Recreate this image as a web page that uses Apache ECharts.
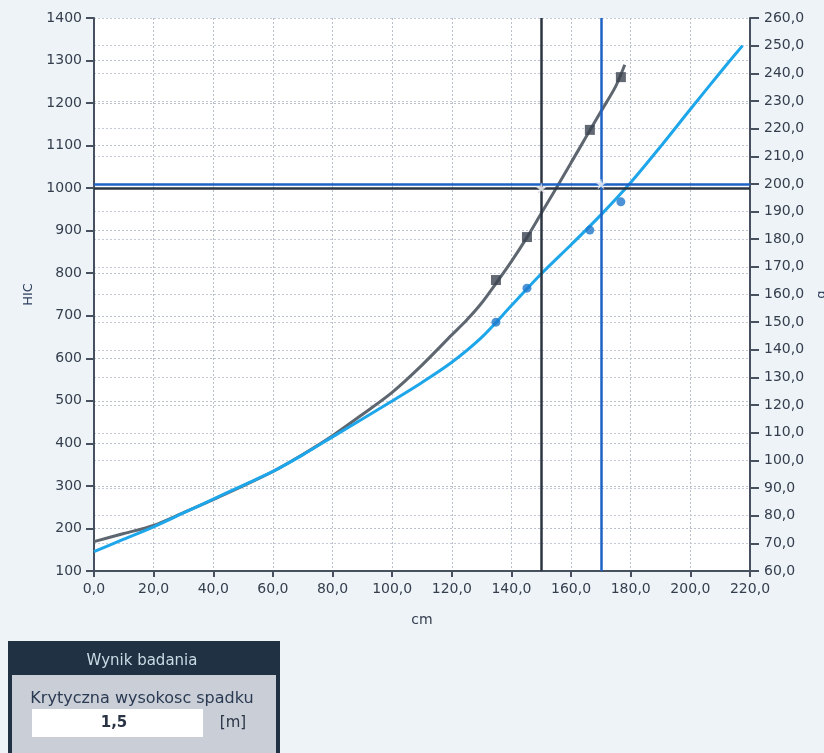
<!DOCTYPE html>
<html><head><meta charset="utf-8">
<script src="https://cdn.jsdelivr.net/npm/echarts@6/dist/echarts.min.js"></script>
<style>html,body{margin:0;padding:0;background:#eef3f8;}#c{width:824px;height:753px;}</style>
</head><body><div id="c"></div>
<script>
// curve data (cm -> HIC, left axis)
const hicX = [0,10,20,30,40,50,60,70,80,90,100,110,120,125,130,135,140,145,150,155,160,165,170,175,178];
const hicY = [169,188,207,237,268,300,334,374,418,468,520,584,655,690,730,778,828,882,941,1000,1060,1120,1180,1240,1290];
// curve data (cm -> g, right axis)
const gX = [0,10,20,30,40,50,60,70,80,90,100,110,120,130,140,150,160,170,180,190,200,210,217.5];
const gY = [67,71.5,76,81,86,91,96,102,108.5,115,121.5,128.2,135.5,144.5,156,167.5,178,188.8,200.5,213.5,227,240.3,250];
// measured points
const hicPtsX = [134.8,145.2,166.3,176.7];
const hicPtsY = [784,885,1137,1261];
const gPtsX = [134.8,145.2,166.3,176.7];
const gPtsY = [150,162.3,183.3,193.5];
// critical lines
const critHIC = 1000, critG = 200, critXHIC = 150, critXG = 170;

const fmt1 = v => v.toFixed(1).replace('.', ',');
const fmt0 = v => String(v);
const pair = (xs, ys) => xs.map((x, i) => [x, ys[i]]);
const star = 'path://M50,0 L61,35 L98,35 L68,57 L79,91 L50,70 L21,91 L32,57 L2,35 L39,35 Z';
const lblColor = '#343e4c';
const lblFont = {color: lblColor, fontSize: 14, fontFamily: 'DejaVu Sans'};
const gridLine = {show: true, lineStyle: {color: '#b9c1cd', type: [2, 2], width: 1}};

const chart = echarts.init(document.getElementById('c'));
chart.setOption({
  backgroundColor: '#eef3f8',
  animation: false,
  grid: {left: 94, right: 74, top: 18, bottom: 182, show: true, backgroundColor: '#ffffff', borderWidth: 0,
         outerBoundsMode: 'none', containLabel: false},
  xAxis: {
    type: 'value', min: 0, max: 220, interval: 20,
    name: 'cm', nameLocation: 'middle', nameGap: 42,
    nameTextStyle: {color: lblColor, fontSize: 14, fontFamily: 'DejaVu Sans'},
    axisLine: {show: true, lineStyle: {color: '#46505e', width: 2}},
    axisTick: {show: true, length: 6, lineStyle: {color: '#46505e', width: 2}},
    axisLabel: Object.assign({formatter: fmt1, margin: 11}, lblFont),
    splitLine: gridLine
  },
  yAxis: [{
    type: 'value', min: 100, max: 1400, interval: 100, position: 'left',
    name: 'HIC', nameLocation: 'middle', nameGap: 58, nameRotate: 90,
    nameTextStyle: {color: '#2c3e5c', fontSize: 13, fontFamily: 'DejaVu Sans'},
    axisLine: {show: true, lineStyle: {color: '#46505e', width: 2}},
    axisTick: {show: true, length: 8, lineStyle: {color: '#46505e', width: 2}},
    axisLabel: Object.assign({formatter: fmt0, margin: 12}, lblFont),
    splitLine: gridLine
  }, {
    type: 'value', min: 60, max: 260, interval: 10, position: 'right',
    name: 'g', nameLocation: 'middle', nameGap: 64, nameRotate: 90,
    nameTextStyle: {color: '#2c3e5c', fontSize: 13, fontFamily: 'DejaVu Sans'},
    axisLine: {show: true, lineStyle: {color: '#46505e', width: 2}},
    axisTick: {show: true, length: 9, lineStyle: {color: '#46505e', width: 2}},
    axisLabel: Object.assign({formatter: fmt1, margin: 14}, lblFont),
    splitLine: {show: true, lineStyle: {color: '#c3cad5', type: [2, 2], width: 1}}
  }],
  series: [{
    type: 'line', yAxisIndex: 0, data: pair(hicX, hicY), smooth: 0.3, showSymbol: false,
    lineStyle: {color: '#5e6670', width: 3}, z: 3,
    markLine: {silent: true, symbol: 'none', label: {show: false},
      data: [{xAxis: critXHIC}, {yAxis: critHIC}],
      lineStyle: {color: '#2b3440', width: 2.5, type: 'solid'}}
  }, {
    type: 'line', yAxisIndex: 1, data: pair(gX, gY), smooth: 0.3, showSymbol: false,
    lineStyle: {color: '#1da6ea', width: 3}, z: 3,
    markLine: {silent: true, symbol: 'none', label: {show: false},
      data: [{xAxis: critXG}, {yAxis: critG}],
      lineStyle: {color: '#1d62c4', width: 2.5, type: 'solid'}}
  }, {
    type: 'scatter', yAxisIndex: 0, data: pair(hicPtsX, hicPtsY), symbol: 'rect', symbolSize: 10,
    itemStyle: {color: '#3b4450'}, z: 5
  }, {
    type: 'scatter', yAxisIndex: 1, data: pair(gPtsX, gPtsY), symbol: 'circle', symbolSize: 9,
    itemStyle: {color: '#1e78cc'}, z: 5
  }, {
    type: 'scatter', yAxisIndex: 0, data: [[critXHIC, critHIC]], symbol: star, symbolSize: 10,
    itemStyle: {color: '#ffffff', borderColor: '#c0b8c8', borderWidth: 0.5}, z: 6
  }, {
    type: 'scatter', yAxisIndex: 1, data: [[critXG, critG]], symbol: star, symbolSize: 10,
    itemStyle: {color: '#ffffff', borderColor: '#b8c8e0', borderWidth: 0.5}, z: 6
  }],
  graphic: [
    {type: 'rect', shape: {x: 8, y: 641, width: 272, height: 120}, style: {fill: '#1f3142'}},
    {type: 'text', x: 142, y: 661, style: {text: 'Wynik badania', fill: '#c9dbe4', font: '15px "DejaVu Sans"', align: 'center', verticalAlign: 'middle'}},
    {type: 'rect', shape: {x: 12, y: 675, width: 264, height: 82}, style: {fill: '#c9ced7'}},
    {type: 'text', x: 142, y: 699, style: {text: 'Krytyczna wysokosc spadku', fill: '#2a3a52', font: '16px "DejaVu Sans"', align: 'center', verticalAlign: 'middle'}},
    {type: 'rect', shape: {x: 32, y: 709, width: 171, height: 28}, style: {fill: '#ffffff'}},
    {type: 'text', x: 114, y: 723, style: {text: '1,5', fill: '#2a3444', font: 'bold 15px "DejaVu Sans"', align: 'center', verticalAlign: 'middle'}},
    {type: 'text', x: 233, y: 723, style: {text: '[m]', fill: '#2a3444', font: '15px "DejaVu Sans"', align: 'center', verticalAlign: 'middle'}}
  ]
});
</script></body></html>
